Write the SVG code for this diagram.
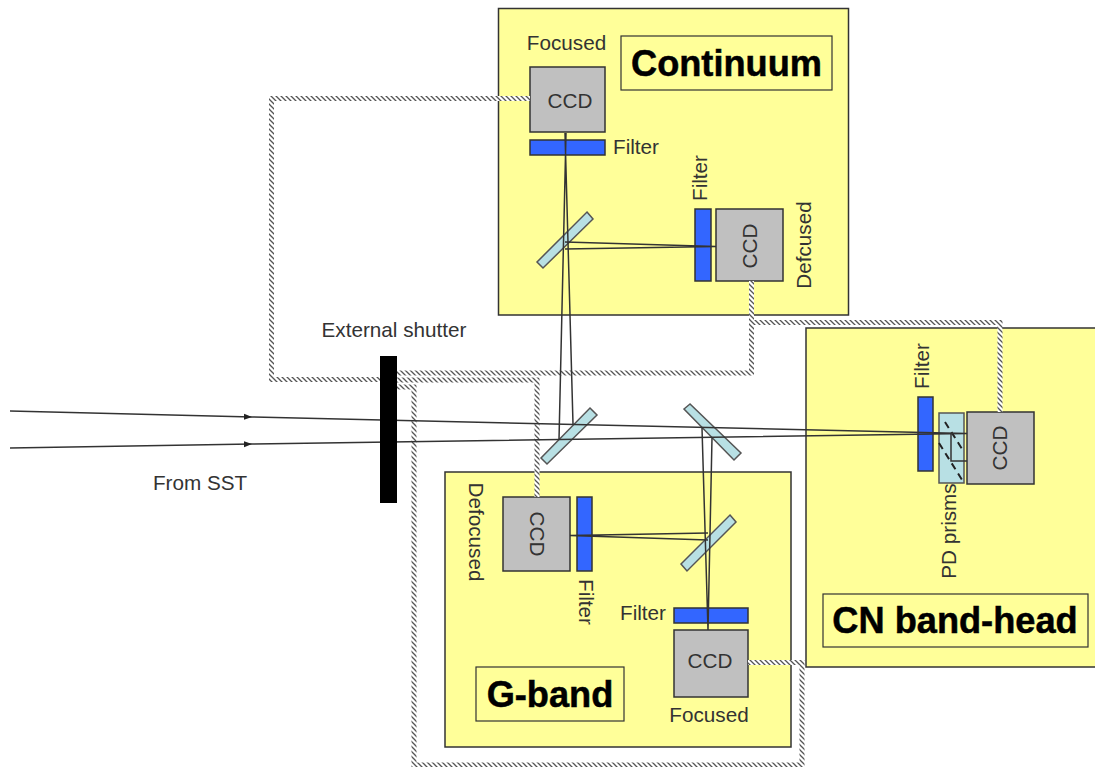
<svg xmlns="http://www.w3.org/2000/svg" width="1095" height="767" viewBox="0 0 1095 767">
<style>
.panel{fill:#ffff99;stroke:#333;stroke-width:1.5}
.label{fill:none;stroke:#333;stroke-width:1.2}
.ccd{fill:#c0c0c0;stroke:#333;stroke-width:1.5}
.filter{fill:#3366ff;stroke:#333;stroke-width:1.5}
.mirror{fill:#b8e0e4;stroke:#555;stroke-width:1.5}
.t{font-family:"Liberation Sans",Arial,sans-serif;font-size:20.7px;fill:#333}
.c{text-anchor:middle}
.b{font-family:"Liberation Sans",Arial,sans-serif;font-size:36.2px;font-weight:bold;fill:#000;stroke:#000;stroke-width:0.5;text-anchor:middle}
.hatch{fill:none;stroke:url(#h);stroke-width:5}
.beam{fill:none;stroke:#333;stroke-width:1.500}
</style>
<defs>
<pattern id="h" patternUnits="userSpaceOnUse" width="5" height="5">
<rect width="5" height="5" fill="#fff"/>
<path d="M0 0L5 5M-1 4L1 6M4 -1L6 1" stroke="#555" stroke-width="1.300" fill="none"/>
</pattern>
<marker id="a" markerUnits="userSpaceOnUse" markerWidth="9" markerHeight="7" refX="8" refY="3.500" orient="auto"><path d="M0 0.500L8 3.500L0 6.500Z" fill="#222"/></marker>
</defs>
<g id="panel-continuum"><rect class="panel" x="498.500" y="8.500" width="350" height="306.500"/></g>
<g id="panel-cn"><rect class="panel" x="806" y="328" width="292" height="339"/></g>
<g id="panel-gband"><rect class="panel" x="445" y="472" width="346" height="275"/></g>
<g id="label-continuum"><rect class="label" x="621" y="36" width="211" height="54"/><text class="b" x="726.500" y="76">Continuum</text></g>
<g id="label-cn"><rect class="label" x="823" y="594" width="265" height="53"/><text class="b" x="955" y="633">CN band-head</text></g>
<g id="label-gband"><rect class="label" x="476" y="667" width="148" height="54"/><text class="b" x="550" y="707">G-band</text></g>

<g id="ccd-continuum-focused"><rect class="ccd" x="530" y="67" width="75" height="65"/><text class="t c" x="570" y="108">CCD</text><text class="t c" x="566.500" y="50">Focused</text></g>
<g id="filter-continuum-focused"><rect class="filter" x="530" y="140" width="75" height="15"/><text class="t" x="613" y="154">Filter</text></g>
<g id="mirror-continuum"><polygon class="mirror" points="587,212 593,219 543,268 537,262"/></g>
<g id="filter-continuum-defocused"><rect class="filter" x="695" y="209" width="16" height="72"/><text class="t c" transform="translate(707,178) rotate(-90)">Filter</text></g>
<g id="ccd-continuum-defocused"><rect class="ccd" x="716" y="209" width="67" height="72"/><text class="t c" transform="translate(757,246) rotate(-90)">CCD</text><text class="t c" transform="translate(811,245) rotate(-90)">Defcused</text></g>

<g id="ccd-cn"><rect class="ccd" x="967" y="412" width="67" height="72"/><text class="t c" transform="translate(1007,448) rotate(-90)">CCD</text></g>
<g id="filter-cn"><rect class="filter" x="918" y="397" width="15" height="74"/><text class="t c" transform="translate(929,366) rotate(-90)">Filter</text></g>
<g id="prisms-cn"><rect class="mirror" x="939" y="413" width="25" height="70"/>
<path d="M945 422L964 452M939 443L964 483" fill="none" stroke="#222" stroke-width="2" stroke-dasharray="7 5"/>
<text class="t c" transform="translate(956,531) rotate(-90)">PD prisms</text></g>

<g id="mirror-main-1"><polygon class="mirror" points="590,408 597,415 547,464 541,458"/></g>
<g id="mirror-main-2"><polygon class="mirror" points="690,404 684,409 734,460 741,453"/></g>
<g id="mirror-gband"><polygon class="mirror" points="730,515 736,522 687,571 681,564"/></g>
<g id="ccd-gband-defocused"><rect class="ccd" x="503" y="497" width="67" height="74"/><text class="t c" transform="translate(530,534) rotate(90)">CCD</text><text class="t c" transform="translate(469,532) rotate(90)">Defocused</text></g>
<g id="filter-gband-defocused"><rect class="filter" x="577" y="497" width="15" height="74"/><text class="t c" transform="translate(579,602) rotate(90)">Filter</text></g>
<g id="filter-gband-focused"><rect class="filter" x="674" y="608" width="74" height="15"/><text class="t" x="620" y="620">Filter</text></g>
<g id="ccd-gband-focused"><rect class="ccd" x="674" y="630" width="74" height="67"/><text class="t c" x="710" y="668">CCD</text><text class="t c" x="709" y="722">Focused</text></g>

<g id="connectors">
<path class="hatch" d="M530 98.500H271.500V379.500H381"/>
<path class="hatch" d="M751.500 281V373H397"/>
<path class="hatch" d="M1000 412V322.500H751.500"/>
<path class="hatch" d="M537 497V380H397"/>
<path class="hatch" d="M748 662.500H802V765H414V387H397"/>
<path class="beam" marker-end="url(#a)" d="M10 411L252 417"/>
<path class="beam" marker-end="url(#a)" d="M10 448L252 444"/>
<path class="beam" d="M252 417L967 433.500M252 444L967 433.500"/>
<path class="beam" d="M559 440L566 133M573 424L565 133"/>
<path class="beam" d="M565 242L716 246.500M565 249L716 246.500"/>
<path class="beam" d="M702 428L708 630M712 438L708 630"/>
<path class="beam" d="M708 533L570 535.500M708 540L570 535.500"/>
<path class="beam" d="M951 433.500V461H967"/>
</g>
<g id="shutter"><rect x="380" y="356" width="17" height="147" fill="#000"/><text class="t c" x="394" y="337">External shutter</text></g>
<g id="source"><text class="t c" x="200" y="490">From SST</text></g>
</svg>
